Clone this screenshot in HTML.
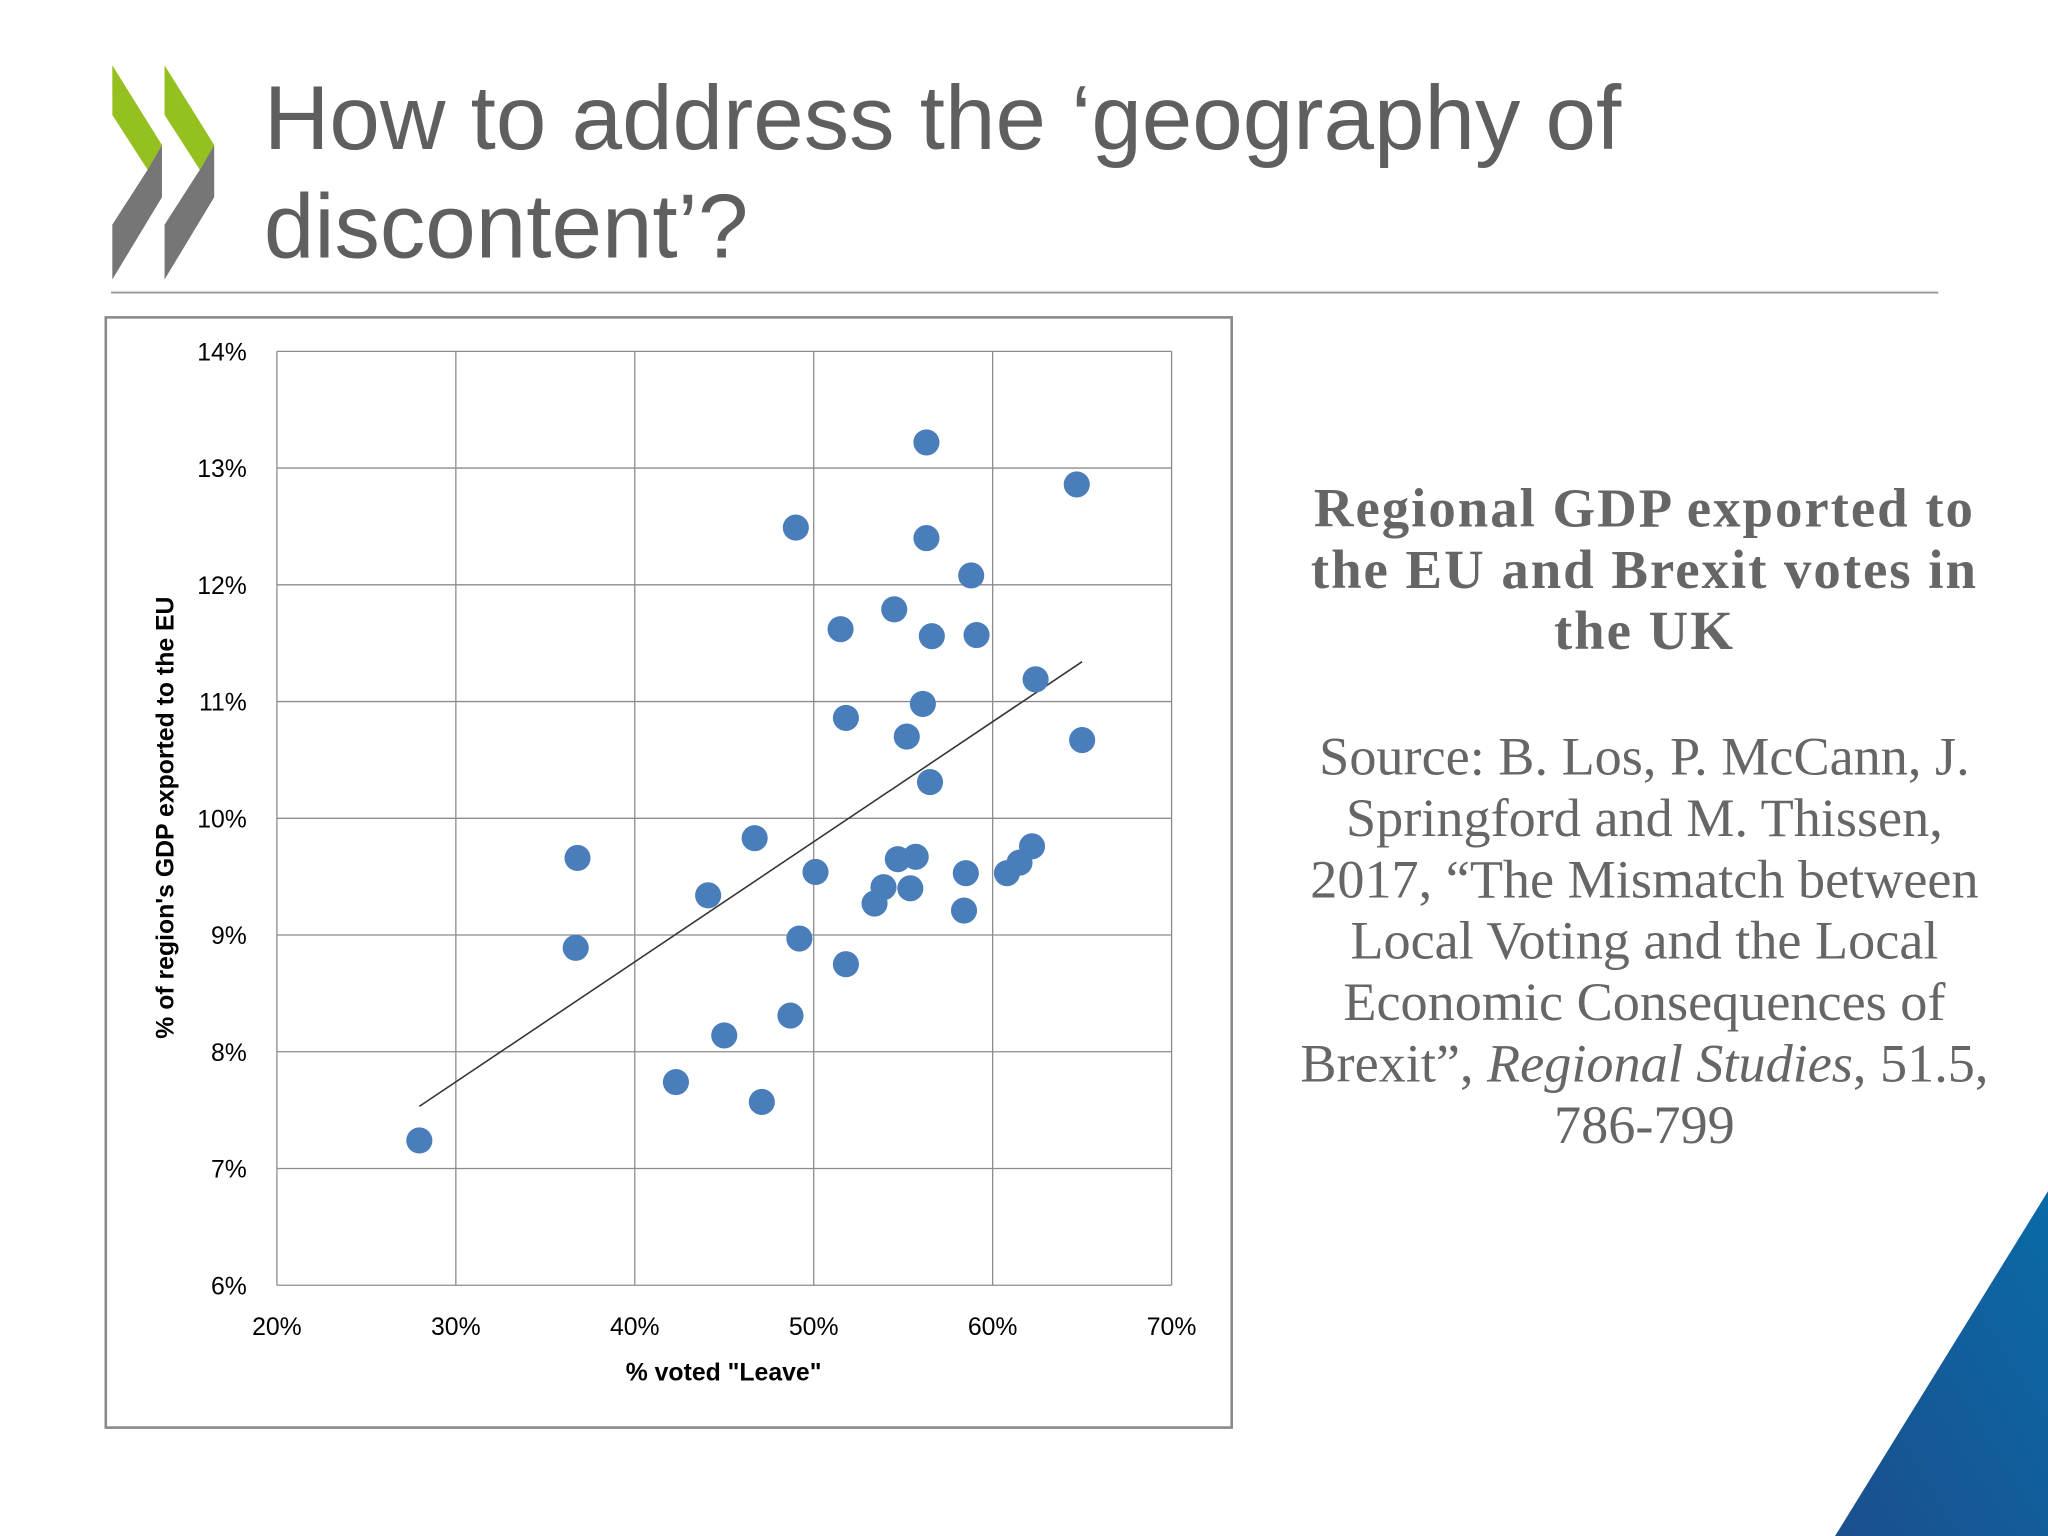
<!DOCTYPE html>
<html><head><meta charset="utf-8"><style>
html,body{margin:0;padding:0;background:#fff;}
#wrap{width:1568px;height:1176px;position:relative;transform:scale(1.306122);transform-origin:0 0;overflow:hidden;font-family:"Liberation Sans",sans-serif;}
.title{position:absolute;left:202px;top:49px;font-size:69.5px;line-height:83px;color:#5f5f5f;}
.side{position:absolute;left:960px;width:598px;text-align:center;font-family:"Liberation Serif",serif;color:#666;line-height:47px;white-space:nowrap;}
</style></head><body>
<div id="wrap">
<svg width="1568" height="1176" style="position:absolute;left:0;top:0">
<defs><linearGradient id="bg" x1="0" y1="1" x2="1" y2="0"><stop offset="0" stop-color="#1b4f8c"/><stop offset="1" stop-color="#0a6aa8"/></linearGradient></defs>
<g>
<polygon points="86,50 124,111 113,130 86,88" fill="#94c11f"/>
<polygon points="113,130 124,111 124,151 86,214 86,172" fill="#767676"/>
<polygon points="126,50 164,111 153,130 126,88" fill="#94c11f"/>
<polygon points="153,130 164,111 164,151 126,214 126,172" fill="#767676"/>
</g>
<line x1="85" y1="224" x2="1484" y2="224" stroke="#999" stroke-width="1.5"/>
<polygon points="1405,1176 1568,1176 1568,912" fill="url(#bg)"/>
</svg>
<div class="title">How to address the ‘geography of<br>discontent’?</div>
<div class="side" style="top:367px;font-weight:bold;font-size:42px;letter-spacing:1.5px;">Regional GDP exported to<br>the EU and Brexit votes in<br>the UK</div>
<div class="side" style="top:556px;font-size:41.5px;">Source: B. Los, P. McCann, J.<br>Springford and M. Thissen,<br>2017, “The Mismatch between<br>Local Voting and the Local<br>Economic Consequences of<br>Brexit”, <i>Regional Studies</i>, 51.5,<br>786-799</div>
<svg id="chart" width="1568" height="1176" style="position:absolute;left:0;top:0"></svg>
</div>
<script>
const leave=[27.96,36.8,36.7,42.3,44.1,45.0,46.7,47.1,48.7,49.0,49.2,50.1,51.5,51.8,51.8,53.4,53.9,54.5,54.7,55.2,55.4,55.7,56.1,56.3,56.3,56.5,56.6,58.4,58.5,58.8,59.1,60.8,61.5,62.2,62.4,64.7,65.0];
const gdpEU=[7.24,9.66,8.89,7.74,9.34,8.14,9.83,7.57,8.31,12.49,8.97,9.54,11.62,10.86,8.75,9.27,9.41,11.79,9.65,10.70,9.40,9.67,10.98,13.22,12.40,10.31,11.56,9.21,9.53,12.08,11.57,9.53,9.62,9.76,11.19,12.86,10.67];
const xTicks=[20,30,40,50,60,70];
const yTicks=[6,7,8,9,10,11,12,13,14];
const NS='http://www.w3.org/2000/svg';
const svg=document.getElementById('chart');
const X0=212,X1=897,Y0=984,Y1=269;
const xs=v=>X0+(v-20)/50*(X1-X0);
const ys=v=>Y0-(v-6)/8*(Y0-Y1);
function mk(t,a,p){const e=document.createElementNS(NS,t);for(const k in a)e.setAttribute(k,a[k]);(p||svg).appendChild(e);return e;}
const frame=mk('rect',{x:81,y:243,width:862,height:850,fill:'#fff',stroke:'#8a8a8a','stroke-width':2});


xTicks.forEach(t=>{const l=mk('line',{x1:xs(t),x2:xs(t),y1:Y1,y2:Y0,stroke:'#8c8c8c','stroke-width':1});


const tx=mk('text',{x:xs(t),y:1022,'text-anchor':'middle','font-size':19,fill:'#000','font-family':'Liberation Sans, sans-serif'});tx.textContent=t+'%';

});
yTicks.forEach(t=>{const l=mk('line',{x1:X0,x2:X1,y1:ys(t),y2:ys(t),stroke:'#8c8c8c','stroke-width':1});


const tx=mk('text',{x:189,y:ys(t)+7,'text-anchor':'end','font-size':19,fill:'#000','font-family':'Liberation Sans, sans-serif'});tx.textContent=t+'%';

});
const n=leave.length;let mx=0,my=0;for(let i=0;i<n;i++){mx+=leave[i];my+=gdpEU[i];}mx/=n;my/=n;
let sxy=0,sxx=0;for(let i=0;i<n;i++){sxy+=(leave[i]-mx)*(gdpEU[i]-my);sxx+=(leave[i]-mx)**2;}
const b=sxy/sxx,a=my-b*mx;const xmin=Math.min(...leave),xmax=Math.max(...leave);
const tl=mk('line',{x1:xs(xmin),y1:ys(a+b*xmin),x2:xs(xmax),y2:ys(a+b*xmax),stroke:'#333','stroke-width':1.2});


leave.forEach((v,i)=>{const c=mk('circle',{cx:xs(v),cy:ys(gdpEU[i]),r:10,fill:'#4a7ebb'});

});
const xt=mk('text',{x:554,y:1057,'text-anchor':'middle','font-size':19,'font-weight':'bold',fill:'#000','font-family':'Liberation Sans, sans-serif'});xt.textContent='% voted "Leave"';


const yt=mk('text',{x:0,y:0,'text-anchor':'middle','font-size':19,'font-weight':'bold',fill:'#000','font-family':'Liberation Sans, sans-serif',transform:'translate(133,626) rotate(-90)'});yt.textContent="% of region's GDP exported to the EU";


</script>
</body></html>
